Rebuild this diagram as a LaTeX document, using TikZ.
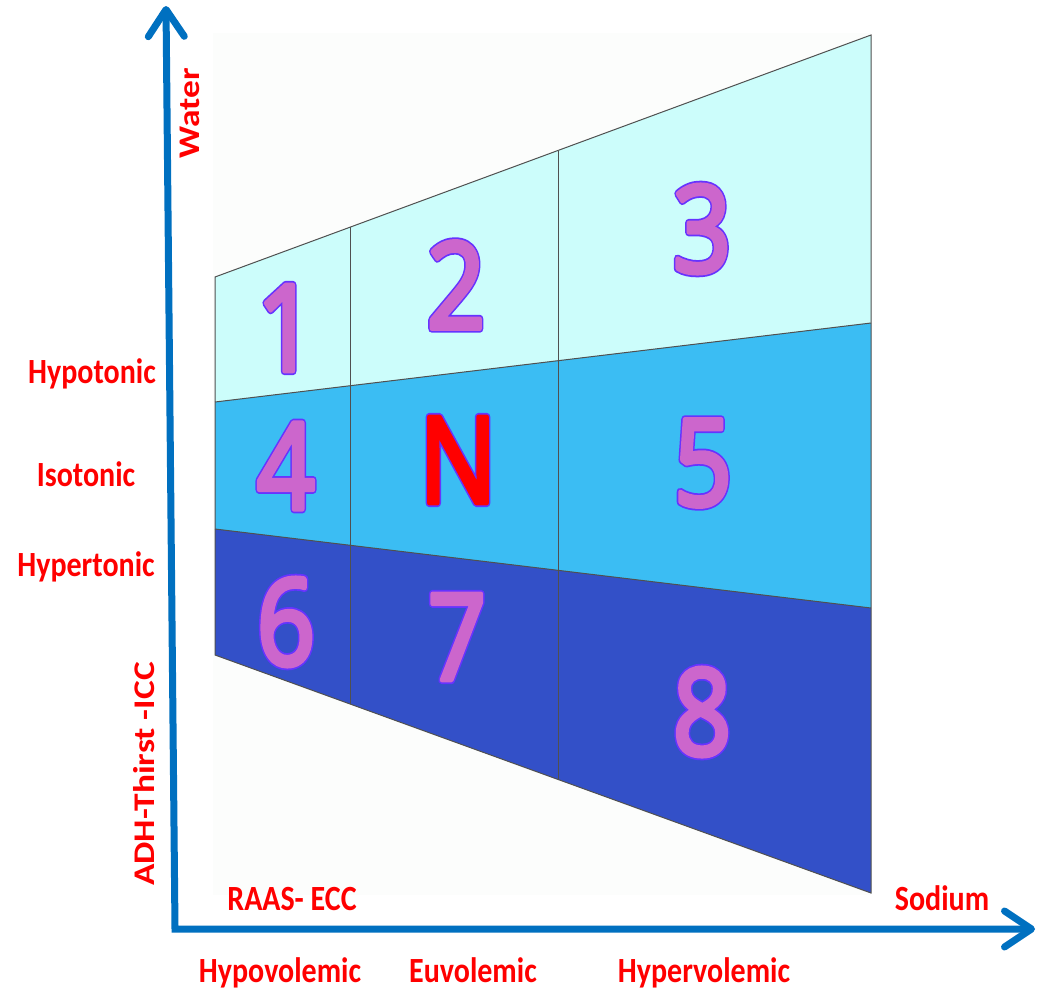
\documentclass[tikz,border=0pt]{standalone}
\usepackage{fontspec}
\usepackage{graphicx}
\setmainfont{Carlito}
\newfontfamily\digitfont{Noto Sans}
\usetikzlibrary{arrows.meta}
\definecolor{axisblue}{RGB}{0,112,192}
\definecolor{lightc}{RGB}{204,253,251}
\definecolor{midc}{RGB}{59,189,243}
\definecolor{darkc}{RGB}{51,80,200}
\definecolor{orch}{RGB}{204,102,204}
\definecolor{labred}{RGB}{255,0,0}
\definecolor{bgc}{RGB}{252,253,252}
\definecolor{gridc}{RGB}{80,80,80}
% #1: fill colour (pdf rgb triple), #2: text
\newcommand{\fatoutl}[2]{%
  \rlap{\special{pdf:literal direct 0.4 0.2 1 rg 0.4 0.2 1 RG 2 Tr 7 w 1 j 1 J}#2\special{pdf:literal direct 0 Tr}}%
  \special{pdf:literal direct #1 rg #1 RG 2 Tr 4 w 1 j 1 J}#2\special{pdf:literal direct 0 Tr}}
\newcommand{\ys}[1]{\scalebox{1}[1.18]{#1}}
\begin{document}
\begin{tikzpicture}[x=1pt,y=-1pt,
  lab/.style={text=labred, font=\bfseries\fontsize{30}{30}\selectfont, inner sep=0pt},
  num/.style={inner sep=0pt, font=\digitfont\fontsize{102}{102}\selectfont},
  axistip/.tip={Straight Barb[length=27pt, width=36pt, line cap=round, line join=round]},
  axis/.style={draw=axisblue, line width=7pt, axistip-axistip},
  gridline/.style={draw=gridc, line width=1pt}]
\useasboundingbox (0,0) rectangle (1042,994);
\fill[white] (0,0) rectangle (1042,994);
\fill[bgc] (213,33) rectangle (871,895);
% corner coordinates
\coordinate (T0) at (215,277); \coordinate (T1) at (350,227);
\coordinate (T2) at (558,150.5); \coordinate (T3) at (871,35);
\coordinate (A0) at (215,402); \coordinate (A1) at (350,385.7);
\coordinate (A2) at (558,360.7); \coordinate (A3) at (871,323);
\coordinate (B0) at (215,529); \coordinate (B1) at (350,545);
\coordinate (B2) at (558,570); \coordinate (B3) at (871,608);
\coordinate (C0) at (215,655); \coordinate (C1) at (350,704);
\coordinate (C2) at (558,779); \coordinate (C3) at (871,893);
% bands
\fill[lightc] (T0) -- (T3) -- (A3) -- (A0) -- cycle;
\fill[midc] (A0) -- (A3) -- (B3) -- (B0) -- cycle;
\fill[darkc] (B0) -- (B3) -- (C3) -- (C0) -- cycle;
% grid lines
\draw[gridline] (T0) -- (T3) -- (C3) -- (C0) -- cycle;
\draw[gridline] (A0) -- (A3);
\draw[gridline] (B0) -- (B3);
\draw[gridline] (T1) -- (C1);
\draw[gridline] (T2) -- (C2);
% numbers
\node[num] (n1) at (286,328) {\ys{\fatoutl{0.8 0.4 0.8}{1}}};
\node[num] (n2) at (456,285) {\ys{\fatoutl{0.8 0.4 0.8}{2}}};
\node[num] (n3) at (702,229) {\ys{\fatoutl{0.8 0.4 0.8}{3}}};
\node[num] (n4) at (286,466) {\ys{\fatoutl{0.8 0.4 0.8}{4}}};
\node[num] (nN) at (458,460) {\ys{\fatoutl{1 0 0}{N}}};
\node[num] (n5) at (703,463) {\ys{\fatoutl{0.8 0.4 0.8}{5}}};
\node[num] (n6) at (286,622) {\ys{\fatoutl{0.8 0.4 0.8}{6}}};
\node[num] (n7) at (457,637) {\ys{\fatoutl{0.8 0.4 0.8}{7}}};
\node[num] (n8) at (702,712) {\ys{\fatoutl{0.8 0.4 0.8}{8}}};
% axes
\draw[axis] (166,6) -- (175,929) -- (1035,929);
% labels
\node[lab] (water) at (190,113) {\ys{\rotatebox{90}{Water}}};
\node[lab] (adh) at (144,774) {\ys{\rotatebox{90}{ADH-Thirst -ICC}}};
\node[lab, anchor=base] (hypo) at (92,383) {\ys{Hypotonic}};
\node[lab, anchor=base] (iso) at (86,486) {\ys{Isotonic}};
\node[lab, anchor=base] (hyper) at (86,576) {\ys{Hypertonic}};
\node[lab, anchor=base] (raas) at (292,910) {\ys{RAAS- ECC}};
\node[lab, anchor=base] (sodium) at (942,910) {\ys{Sodium}};
\node[lab, anchor=base] (hypov) at (280,982) {\ys{Hypovolemic}};
\node[lab, anchor=base] (euv) at (473,982) {\ys{Euvolemic}};
\node[lab, anchor=base] (hyperv) at (704,982) {\ys{Hypervolemic}};
\end{tikzpicture}
\end{document}
